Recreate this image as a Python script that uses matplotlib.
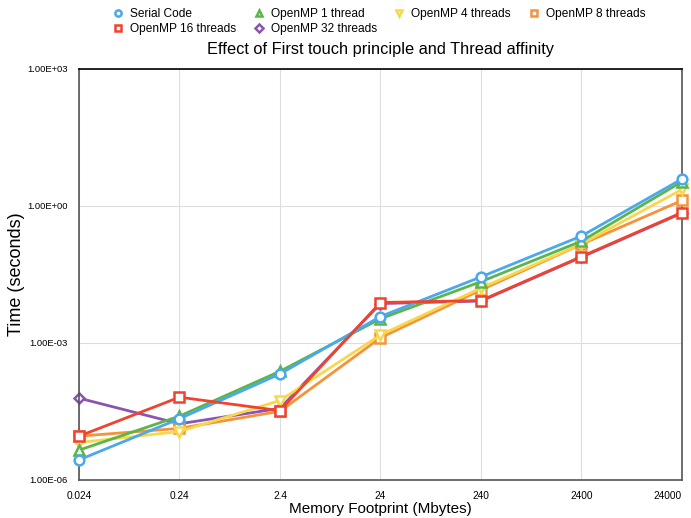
import matplotlib
matplotlib.use("Agg")
import matplotlib.pyplot as plt
from matplotlib.ticker import FixedLocator, FuncFormatter

plt.rcParams["font.family"] = ["Liberation Sans", "DejaVu Sans"]

# data
sizes = ["0.024", "0.24", "2.4", "24", "240", "2400", "24000"]
serial = [2.75e-6, 2.2e-5, 2.1e-4, 3.8e-3, 0.028, 0.22, 3.9]
omp1 = [4.5e-6, 2.5e-5, 2.4e-4, 3.4e-3, 0.022, 0.17, 3.4]
omp4 = [6.6e-6, 1.15e-5, 5.5e-5, 1.5e-3, 0.016, 0.148, 2.3]
omp8 = [9.1e-6, 1.35e-5, 3.2e-5, 1.3e-3, 0.0145, 0.145, 1.32]
omp16 = [9.1e-6, 6.5e-5, 3.3e-5, 7.7e-3, 8.5e-3, 0.078, 0.72]
omp32 = [6.2e-5, 1.7e-5, 3.7e-5, 7.3e-3, 8.3e-3, 0.076, 0.70]

series = [
    ("Serial Code", serial, "#4aa8ec", "o", 7),
    ("OpenMP 16 threads", omp16, "#f0432f", "s", 6.5),
    ("OpenMP 1 thread", omp1, "#5cb54a", "^", 7),
    ("OpenMP 32 threads", omp32, "#8a55b0", "D", 5),
    ("OpenMP 4 threads", omp4, "#f8d84a", "v", 7),
    ("OpenMP 8 threads", omp8, "#f5923a", "s", 6.5),
]
zorders = {"OpenMP 32 threads": 2, "OpenMP 8 threads": 3, "OpenMP 4 threads": 4,
           "OpenMP 1 thread": 5, "Serial Code": 6, "OpenMP 16 threads": 7}

fig = plt.figure(figsize=(6.91, 5.18), dpi=100)
ax = fig.add_axes([0.1143, 0.0734, 0.8726, 0.7934])

x = list(range(len(sizes)))
handles = []
for name, vals, col, mk, ms in series:
    ax.plot(x, vals, color=col, lw=2, marker=mk, ms=ms, mfc="white",
            mec=col, mew=1.8, zorder=zorders[name], clip_on=False)
    h, = ax.plot([], [], ls="none", marker=mk, ms=4.5, mfc="white", mec=col,
                 mew=1.8, label=name)
    handles.append(h)

ax.set_yscale("log")
ax.set_ylim(1e-6, 1e3)
ax.set_xlim(0, 6)
ax.yaxis.set_major_locator(FixedLocator([1e-6, 1e-3, 1e0, 1e3]))
ax.yaxis.set_minor_locator(FixedLocator([]))
ax.yaxis.set_major_formatter(FuncFormatter(lambda v, p: "%.2E" % v))
ax.set_xticks(x)
ax.set_xticklabels(sizes)
ax.get_xticklabels()[-1].set_horizontalalignment("right")
ax.get_xticklabels()[-1].set_x(6.07)
ax.tick_params(axis="y", length=0, labelsize=6.8, pad=8)
ax.tick_params(axis="x", length=0, labelsize=7.3, pad=8)
ax.grid(True, color="#dddddd", lw=0.8, zorder=0)
ax.set_axisbelow(True)
for s in ["left", "bottom", "right"]:
    ax.spines[s].set_color("#555555")
    ax.spines[s].set_linewidth(1.2)
ax.spines["top"].set_color("black")
ax.spines["top"].set_linewidth(1.2)

ax.set_xlabel("Memory Footprint (Mbytes)", fontsize=11, labelpad=1)
ax.set_ylabel("Time (seconds)", fontsize=13)
ax.yaxis.set_label_coords(-0.09, 0.5)
ax.set_title("Effect of First touch principle and Thread affinity", fontsize=11.8, pad=11)

fig.legend(handles=handles, loc="upper left", bbox_to_anchor=(0.162, 0.984), ncol=4,
           frameon=False, fontsize=8.6, handletextpad=0.5, columnspacing=1.4,
           labelspacing=0.25, handlelength=1.0, borderpad=0, borderaxespad=0)

fig.savefig("out.png", dpi=100)
